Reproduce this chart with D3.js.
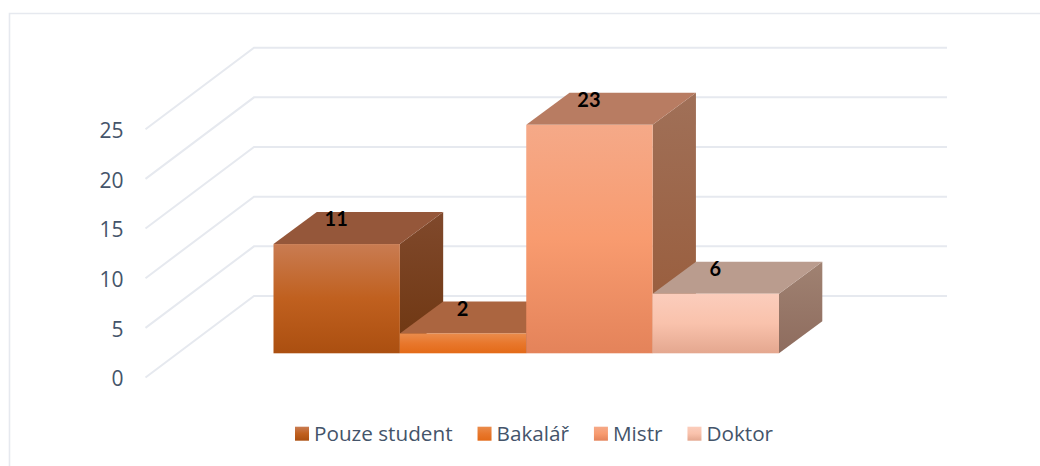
<!DOCTYPE html>
<html><head><meta charset="utf-8">
<script src="https://cdn.jsdelivr.net/npm/d3@7"></script>
<style>html,body{margin:0;padding:0;background:#fff;overflow:hidden}svg{display:block}</style>
</head><body><svg id="c" width="1040" height="466"></svg>
<script>
const categories = ["Pouze student","Bakalář","Mistr","Doktor"];
const values = [11,2,23,6];
const yTicks = [0,5,10,15,20,25];
const frontGradients = [["#c97c52","#c0601f","#ab4f10"],["#ea8c4c","#e8772c","#e36a18"],["#f5a988","#f89b6f","#e4835a"],["#fbcdbc","#f9c2ac","#e4a78f"]];
const sideGradients = [["#80492c","#6e3610"],["#a07058","#985a38"],["#a08272","#8e6c5e"]];
const topColors = ["#95573a","#ab6540","#b87c62","#ba9c8e"];
const sideIndex = [0,0,1,2];

const svg = d3.select("#c");
const TEXT = "#44546a", GRID = "#e6e9ef";
const FONT = "'Open Sans','Noto Sans',sans-serif";

// scales
const h = d3.scaleLinear().domain([0,25]).range([0,248.3]);
const x = d3.scaleBand().domain(categories).range([273.5,779]).padding(0);
const floorBack = {x:254,y:296}, floorFront={x:145.5,y:377.5}, gridRight=947;
const barBase = 353.3, depth = {dx:43.3, dy:-32};

// frame
svg.append("path").attr("d","M9.5,466V13.5H1040").attr("fill","none").attr("stroke",GRID).attr("stroke-width",1.6);

// gridlines
svg.append("g").selectAll("path").data(yTicks).join("path")
  .attr("d",d=>{const o=h(d);return `M${floorFront.x},${floorFront.y-o}L${floorBack.x},${floorBack.y-o}H${gridRight}`;})
  .attr("fill","none").attr("stroke",GRID).attr("stroke-width",2);

// y labels
svg.append("g").selectAll("text").data(yTicks).join("text")
  .attr("x",123.5).attr("y",d=>378.7-h(d)).attr("dy","0.36em").attr("text-anchor","end")
  .attr("font-family",FONT).attr("font-size",21).attr("fill",TEXT).text(d=>d);

// gradients
const defs = svg.append("defs");
function grad(id,stops){
  const g=defs.append("linearGradient").attr("id",id).attr("x1",0).attr("y1",0).attr("x2",0).attr("y2",1);
  stops.forEach((c,i)=>g.append("stop").attr("offset",i/(stops.length-1)).attr("stop-color",c));
}
frontGradients.forEach((s,i)=>grad("f"+i,s));
sideGradients.forEach((s,i)=>grad("s"+i,s));

const bars = categories.map((c,i)=>({c,v:values[i],i,x0:x(c),x1:x(c)+x.bandwidth(),top:barBase-h(values[i])}));
// side and top faces left to right, then the fronts over them
const back = svg.append("g");
bars.forEach(b=>{
  const {dx,dy}=depth;
  back.append("path").attr("d",`M${b.x1},${b.top}L${b.x1+dx},${b.top+dy}V${barBase+dy}L${b.x1},${barBase}Z`)
    .attr("fill",`url(#s${sideIndex[b.i]})`);
  back.append("path").attr("d",`M${b.x0},${b.top}L${b.x0+dx},${b.top+dy}H${b.x1+dx}L${b.x1},${b.top}Z`)
    .attr("fill",topColors[b.i]);
});
svg.append("g").selectAll("rect").data(bars).join("rect")
  .attr("x",d=>d.x0).attr("y",d=>d.top).attr("width",d=>d.x1-d.x0).attr("height",d=>barBase-d.top)
  .attr("fill",d=>`url(#f${d.i})`);

// data labels
svg.append("g").selectAll("text").data(bars).join("text")
  .attr("x",d=>(d.x0+d.x1)/2-0.5).attr("y",d=>d.top-25).attr("dy","0.36em").attr("text-anchor","middle")
  .attr("font-family","Lato,'Open Sans',sans-serif").attr("font-weight",700).attr("font-size",20).attr("fill","#000").text(d=>d.v);

// legend
const lg = svg.append("g");
let cx = 295;
categories.forEach((c,i)=>{
  lg.append("rect").attr("x",cx).attr("y",426.7).attr("width",14).attr("height",14).attr("fill",`url(#f${i})`);
  const t = lg.append("text").attr("x",cx+19).attr("y",433.5).attr("dy","0.36em")
    .attr("font-family",FONT).attr("font-size",20.7).attr("fill",TEXT).text(c);
  cx += 19 + t.node().getComputedTextLength() + 25;
});
</script></body></html>
